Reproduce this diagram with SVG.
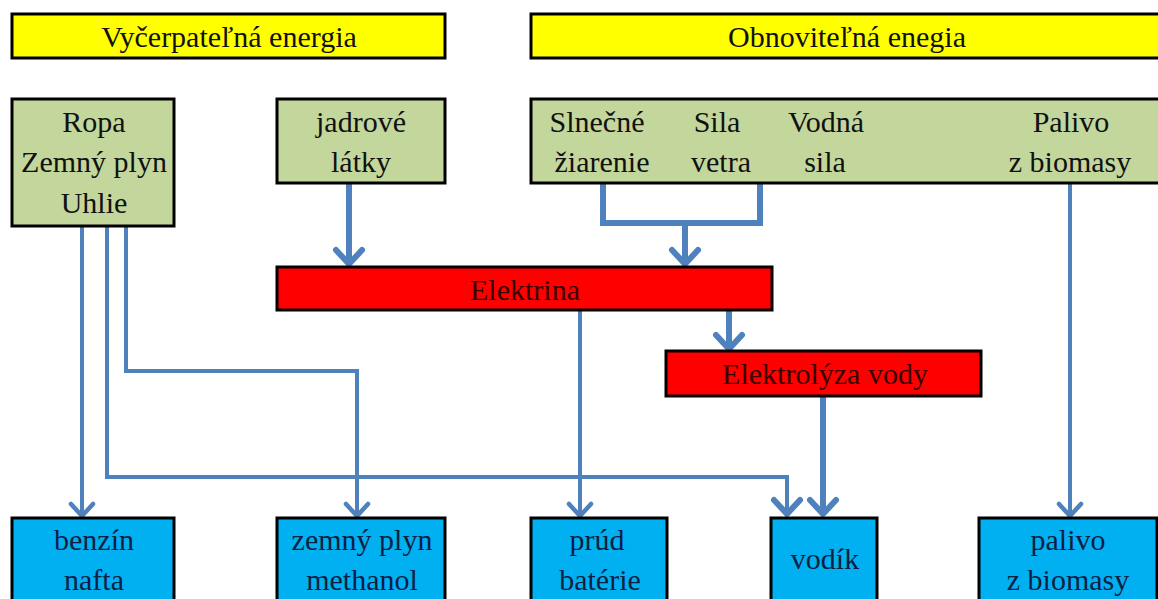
<svg xmlns="http://www.w3.org/2000/svg" width="1158" height="599" viewBox="0 0 1158 599">
  <style>
    text { font-family: "Liberation Serif", "Times New Roman", serif; font-size: 30px; text-anchor: middle; }
    .box { stroke: #000; stroke-width: 3; }
    .yellow { fill: #FFFF00; }
    .green { fill: #C3D69B; }
    .red { fill: #FF0000; }
    .blue { fill: #00B0F0; }
    .tk { fill: #111; }
    .tr { fill: #3a0000; }
    .tb { fill: #0b1f44; }
    .conn { fill: none; stroke: #4F81BD; stroke-linejoin: miter; }
    .thin { stroke-width: 4; }
    .thick { stroke-width: 6; }
  </style>
  <defs>
    <marker id="ahS" markerUnits="userSpaceOnUse" markerWidth="30" markerHeight="30" viewBox="0 0 30 30" refX="26" refY="15" orient="auto">
      <path d="M14,4 L26,15 L14,26" fill="none" stroke="#4F81BD" stroke-width="4.5" stroke-linecap="round" stroke-linejoin="round"/>
    </marker>
    <marker id="ahL" markerUnits="userSpaceOnUse" markerWidth="34" markerHeight="34" viewBox="0 0 34 34" refX="30" refY="17" orient="auto">
      <path d="M16,4 L30,17 L16,30" fill="none" stroke="#4F81BD" stroke-width="6" stroke-linecap="round" stroke-linejoin="round"/>
    </marker>
  </defs>

  <g id="connectors">
    <path class="conn thin" d="M82,226 V516" marker-end="url(#ahS)"/>
    <path class="conn thin" d="M107,226 V477 H787 V514" marker-end="url(#ahL)"/>
    <path class="conn thin" d="M126,226 V371 H357 V516" marker-end="url(#ahS)"/>
    <path class="conn thick" d="M349,183 V264" marker-end="url(#ahL)"/>
    <path class="conn thick" d="M603,183 V223 H760 V183"/>
    <path class="conn thick" d="M685,223 V264" marker-end="url(#ahL)"/>
    <path class="conn thin" d="M580,310 V516" marker-end="url(#ahS)"/>
    <path class="conn thick" d="M729,310 V349" marker-end="url(#ahL)"/>
    <path class="conn thick" d="M823,396 V514" marker-end="url(#ahL)"/>
    <path class="conn thin" d="M1070,183 V516" marker-end="url(#ahS)"/>
  </g>

  <g id="hdr-vycerpatelna">
    <rect class="box yellow" x="12" y="14" width="433" height="44"/>
    <text class="tk" x="229" y="47">Vyčerpateľná energia</text>
  </g>
  <g id="hdr-obnovitelna">
    <rect class="box yellow" x="531" y="14" width="640" height="44"/>
    <text class="tk" x="847" y="47">Obnoviteľná enegia</text>
  </g>

  <g id="src-fosilne">
    <rect class="box green" x="12" y="99" width="162" height="127"/>
    <text class="tk" x="94" y="132">Ropa</text>
    <text class="tk" x="94" y="172">Zemný plyn</text>
    <text class="tk" x="94" y="213">Uhlie</text>
  </g>
  <g id="src-jadrove">
    <rect class="box green" x="277" y="99" width="168" height="84"/>
    <text class="tk" x="361" y="132">jadrové</text>
    <text class="tk" x="361" y="172">látky</text>
  </g>
  <g id="src-obnovitelne">
    <rect class="box green" x="531" y="99" width="640" height="84"/>
    <text class="tk" x="597" y="132">Slnečné</text>
    <text class="tk" x="602" y="172">žiarenie</text>
    <text class="tk" x="717" y="132">Sila</text>
    <text class="tk" x="721" y="172">vetra</text>
    <text class="tk" x="826" y="132">Vodná</text>
    <text class="tk" x="825" y="172">sila</text>
    <text class="tk" x="1071" y="132">Palivo</text>
    <text class="tk" x="1070" y="172">z biomasy</text>
  </g>

  <g id="elektrina">
    <rect class="box red" x="277" y="267" width="495" height="43"/>
    <text class="tr" x="525" y="300">Elektrina</text>
  </g>
  <g id="elektrolyza">
    <rect class="box red" x="666" y="351" width="315" height="45"/>
    <text class="tr" x="825" y="384">Elektrolýza vody</text>
  </g>

  <g id="out-benzin">
    <rect class="box blue" x="12" y="518" width="162" height="100"/>
    <text class="tb" x="94" y="550">benzín</text>
    <text class="tb" x="94" y="590">nafta</text>
  </g>
  <g id="out-zemny-plyn">
    <rect class="box blue" x="277" y="518" width="168" height="100"/>
    <text class="tb" x="362" y="550">zemný plyn</text>
    <text class="tb" x="362" y="590">methanol</text>
  </g>
  <g id="out-prud">
    <rect class="box blue" x="531" y="518" width="136" height="100"/>
    <text class="tb" x="597" y="550">prúd</text>
    <text class="tb" x="600" y="590">batérie</text>
  </g>
  <g id="out-vodik">
    <rect class="box blue" x="771" y="518" width="106" height="100"/>
    <text class="tb" x="825" y="569">vodík</text>
  </g>
  <g id="out-palivo">
    <rect class="box blue" x="979" y="518" width="178" height="100"/>
    <text class="tb" x="1068" y="550">palivo</text>
    <text class="tb" x="1068" y="590">z biomasy</text>
  </g>
</svg>
